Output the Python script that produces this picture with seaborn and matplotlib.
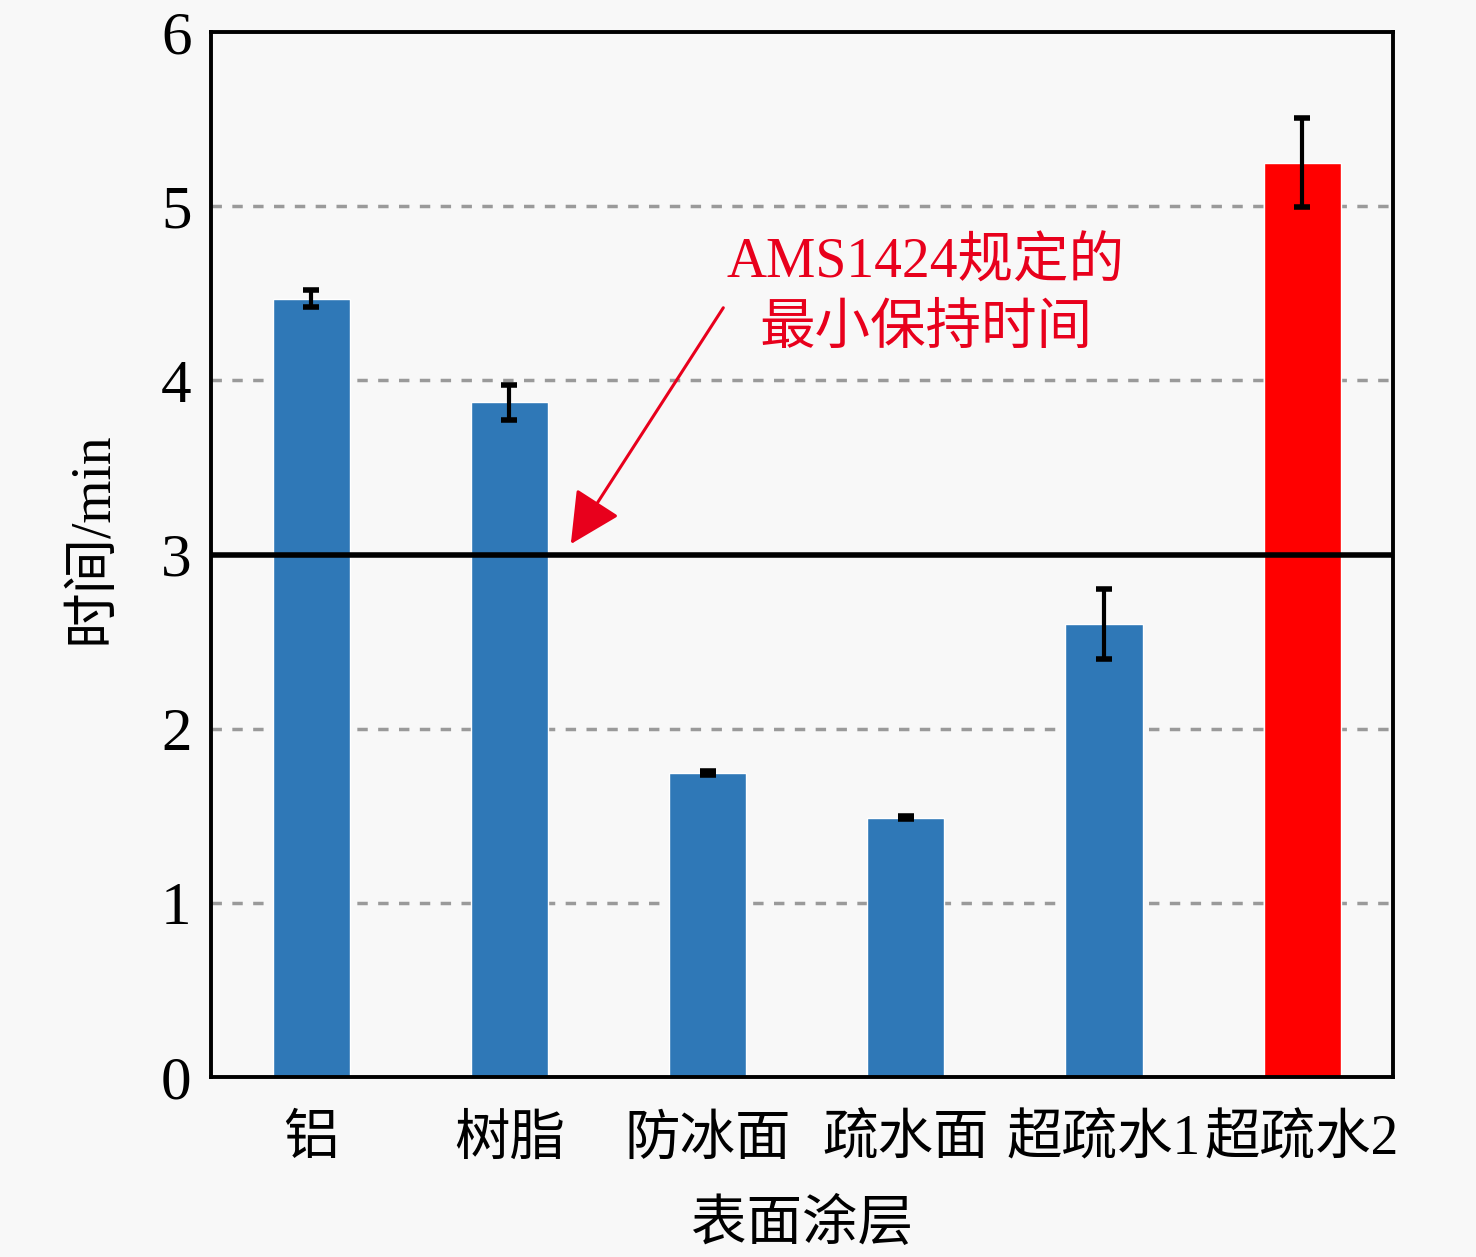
import matplotlib
matplotlib.use("Agg")
import matplotlib.pyplot as plt
import seaborn as sns
import pandas as pd

categories = ["铝", "树脂", "防冰面", "疏水面", "超疏水1", "超疏水2"]
values = [4.47, 3.875, 1.745, 1.49, 2.60, 5.25]
errors = [0.05, 0.10, 0.01, 0.01, 0.20, 0.255]
bar_colors = ["#2f78b7", "#2f78b7", "#2f78b7", "#2f78b7", "#2f78b7", "#ff0000"]
yticks = [0, 1, 2, 3, 4, 5, 6]
grid_levels = [1, 2, 4, 5]
ams_level = 3.0

sns.set_theme(style="white")
plt.rcParams['font.family'] = ['Liberation Serif', 'Noto Sans CJK SC']
plt.rcParams['axes.unicode_minus'] = False
for k in ['text.color', 'axes.labelcolor', 'xtick.color', 'ytick.color']:
    plt.rcParams[k] = 'black'

bg = "#f8f8f8"
fig = plt.figure(figsize=(14.76, 12.57), dpi=100, facecolor=bg)
ax = fig.add_axes([0.143, 0.1432, 0.801, 0.8313])
ax.set_facecolor(bg)

df = pd.DataFrame({"cat": categories, "val": values})
sns.barplot(data=df, x="cat", y="val", hue="cat", palette=bar_colors,
            width=0.39, legend=False, ax=ax, saturation=1, zorder=2)
ax.errorbar(range(len(categories)), values, yerr=errors, fmt="none",
            ecolor="black", elinewidth=3, capsize=6, capthick=4, zorder=4)

for g in grid_levels:
    ax.axhline(g, color="#9a9a9a", lw=2.5, ls=(0, (3, 3)), zorder=1)
ax.axhline(ams_level, color="black", lw=4, zorder=3)

ax.set_xlim(-0.505, 5.46)
ax.set_ylim(0, 6)
ax.set_yticks(yticks)
ax.set_yticklabels([str(t) for t in yticks])
ax.tick_params(axis="y", direction="in", length=10, width=2.5, labelsize=44, pad=14)
ax.tick_params(axis="x", length=0, labelsize=40, pad=27)
for s in ax.spines.values():
    s.set_color("black")
    s.set_linewidth(2.8)

ax.set_xlabel("表面涂层", fontsize=40, labelpad=24)
ax.set_ylabel("时间/min", fontsize=40)
ax.yaxis.set_label_coords(-0.078, 0.516)

ax.annotate("AMS1424规定的\n最小保持时间", xy=(1.31, 3.06), xytext=(3.1, 4.48),
            color="#e8001c", fontsize=40, ha="center", va="center",
            linespacing=1.35,
            arrowprops=dict(arrowstyle="-|>,head_length=0.8,head_width=0.4",
                            color="#e8001c", lw=2.2,
                            shrinkA=0, shrinkB=0,
                            relpos=(0.0, 0.45)),
            zorder=5)

fig.savefig("out.png", dpi=100, facecolor=bg)
